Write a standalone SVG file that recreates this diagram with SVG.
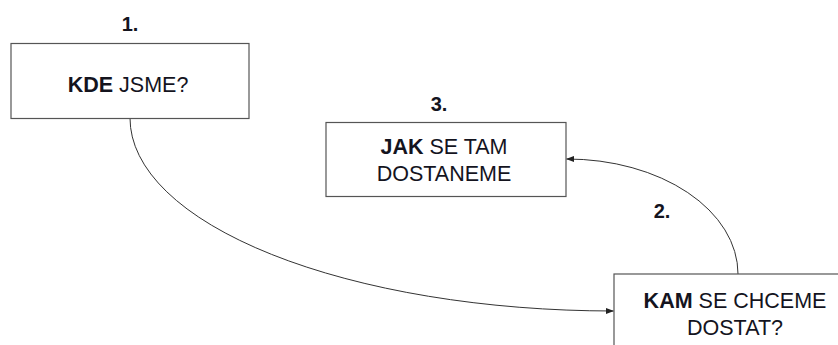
<svg xmlns="http://www.w3.org/2000/svg" width="838" height="345" viewBox="0 0 838 345">
<style>
.box{fill:#fff;stroke:#555;stroke-width:1.2}
.t{font-family:"Liberation Sans",Arial,sans-serif;font-size:21.5px;fill:#14141e;text-anchor:middle}
.b{font-weight:bold}
.num{font-family:"Liberation Sans",Arial,sans-serif;font-size:20px;font-weight:bold;fill:#14141e;text-anchor:middle}
.c{fill:none;stroke:#333;stroke-width:1}
</style>
<defs>
<marker id="ah" markerWidth="8" markerHeight="6" refX="7.5" refY="3" orient="auto" markerUnits="userSpaceOnUse">
<path d="M0,0 L8,3 L0,6 Z" fill="#222"/>
</marker>
</defs>
<rect width="838" height="345" fill="#fff"/>
<g id="connectors">
<path class="c" d="M130,118 A484 193 0 0 0 613.5,311" marker-end="url(#ah)"/>
<path class="c" d="M738,274 A171 115 0 0 0 566.5,159" marker-end="url(#ah)"/>
</g>
<g id="node1">
<text class="num" x="130" y="31">1.</text>
<rect class="box" x="11" y="43.5" width="238" height="75"/>
<text class="t" x="128" y="92"><tspan class="b">KDE</tspan> JSME?</text>
</g>
<g id="node3">
<text class="num" x="439" y="111">3.</text>
<rect class="box" x="326" y="122.5" width="240" height="74"/>
<text class="t" x="444" y="154"><tspan class="b">JAK</tspan> SE TAM</text>
<text class="t" x="444" y="181">DOSTANEME</text>
</g>
<g id="node2">
<text class="num" x="662" y="218">2.</text>
<rect class="box" x="614" y="274" width="240" height="80"/>
<text class="t" x="735" y="308"><tspan class="b">KAM</tspan> SE CHCEME</text>
<text class="t" x="735" y="335">DOSTAT?</text>
</g>
</svg>
